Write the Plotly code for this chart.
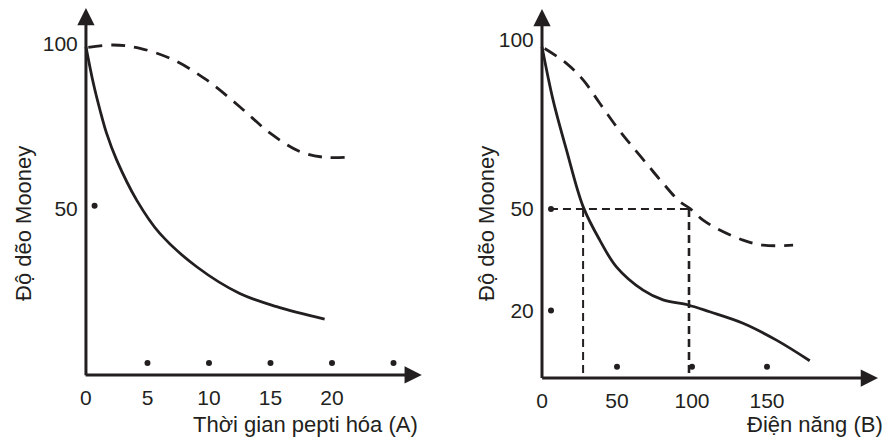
import plotly.graph_objects as go

# ---------------- data ----------------
# Panel A: Mooney plasticity vs peptization time
a_tick_vals = [0, 5, 10, 15, 20]
a_tick_text = ["0", "5", "10", "15", "20"]
a_ytick_vals = [50, 100]
a_ytick_text = ["50", "100"]
a_solid_x = [0, 0.6, 1.14, 1.68, 2.5, 4.12, 6.0, 9.0, 12.5, 15.5, 19.4]
a_solid_y = [99.2, 88.1, 80, 72.9, 64.8, 52.7, 42.6, 32.5, 24.4, 20.4, 16.6]
a_dash_x = [0.19, 2.22, 4.39, 7.1, 9.81, 12.5, 15.0, 17.4, 19.3, 21.2]
a_dash_y = [99.0, 99.7, 98.7, 95.2, 89.1, 81.0, 72.9, 67.4, 65.7, 65.7]
a_xdots = [5, 10, 15, 20, 25]
a_ydots = [51]

# Panel B: Mooney plasticity vs energy
b_tick_vals = [0, 50, 100, 150]
b_tick_text = ["0", "50", "100", "150"]
b_ytick_vals = [20, 50, 100]
b_ytick_text = ["20", "50", "100"]
b_solid_x = [0, 7.4, 16.3, 27.4, 38.5, 49.6, 67.4, 80.7, 97.4, 111.8, 134, 156.3, 178.5]
b_solid_y = [98, 82.2, 67.5, 50.7, 40.8, 32.9, 26.0, 23.1, 21.6, 19.6, 16.2, 11.2, 5.1]
b_dash_x = [1.8, 16.3, 27.4, 38.5, 49.6, 58.5, 69.6, 80.7, 91.8, 98.5, 107.4, 118.5, 134, 147.4, 167.4]
b_dash_y = [97.5, 93.1, 88.2, 81.3, 74.4, 69.4, 63.5, 57.6, 52.2, 50.2, 46.7, 43.8, 40.8, 39.3, 39.3]
b_guide_level = 50
b_guide_x1 = 27.4
b_guide_x2 = 98
b_xdots = [50, 100, 150]
b_ydots = [50, 20]

y_title = "Độ dẽo Mooney"
a_x_title = "Thời gian pepti hóa (A)"
b_x_title = "Điện năng (B)"

# ---------------- styling / layout ----------------
W, H = 886, 438
INK = "#231f20"
FONT = "Liberation Sans, Arial, sans-serif"
LW = 2.8

fig = go.Figure()

# Panel A traces
fig.add_trace(go.Scatter(x=a_solid_x, y=a_solid_y, mode="lines",
                         line=dict(color=INK, width=LW, shape="spline", smoothing=1.0),
                         xaxis="x", yaxis="y", showlegend=False, hoverinfo="skip"))
fig.add_trace(go.Scatter(x=a_dash_x, y=a_dash_y, mode="lines",
                         line=dict(color=INK, width=LW, shape="spline", smoothing=1.0, dash="14px,9px"),
                         xaxis="x", yaxis="y", showlegend=False, hoverinfo="skip"))
fig.add_trace(go.Scatter(x=a_xdots, y=[3.3] * len(a_xdots), mode="markers",
                         marker=dict(color=INK, size=6),
                         xaxis="x", yaxis="y", showlegend=False, hoverinfo="skip"))
fig.add_trace(go.Scatter(x=[0.7] * len(a_ydots), y=a_ydots, mode="markers",
                         marker=dict(color=INK, size=6),
                         xaxis="x", yaxis="y", showlegend=False, hoverinfo="skip"))

# Panel B traces
fig.add_trace(go.Scatter(x=b_solid_x, y=b_solid_y, mode="lines",
                         line=dict(color=INK, width=LW, shape="spline", smoothing=1.0),
                         xaxis="x2", yaxis="y2", showlegend=False, hoverinfo="skip"))
fig.add_trace(go.Scatter(x=b_dash_x, y=b_dash_y, mode="lines",
                         line=dict(color=INK, width=LW, shape="spline", smoothing=1.0, dash="14px,9px"),
                         xaxis="x2", yaxis="y2", showlegend=False, hoverinfo="skip"))
guide_style = dict(color=INK, width=2, dash="8px,5px")
fig.add_trace(go.Scatter(x=[5.3, b_guide_x2], y=[b_guide_level, b_guide_level], mode="lines",
                         line=guide_style, xaxis="x2", yaxis="y2", showlegend=False, hoverinfo="skip"))
fig.add_trace(go.Scatter(x=[b_guide_x1, b_guide_x1], y=[b_guide_level, 0], mode="lines",
                         line=guide_style, xaxis="x2", yaxis="y2", showlegend=False, hoverinfo="skip"))
fig.add_trace(go.Scatter(x=[b_guide_x2, b_guide_x2], y=[b_guide_level, 0], mode="lines",
                         line=dict(color=INK, width=2.6, dash="8px,5px"),
                         xaxis="x2", yaxis="y2", showlegend=False, hoverinfo="skip"))
fig.add_trace(go.Scatter(x=b_xdots, y=[3.3] * len(b_xdots), mode="markers",
                         marker=dict(color=INK, size=6),
                         xaxis="x2", yaxis="y2", showlegend=False, hoverinfo="skip"))
fig.add_trace(go.Scatter(x=[6] * len(b_ydots), y=b_ydots, mode="markers",
                         marker=dict(color=INK, size=6),
                         xaxis="x2", yaxis="y2", showlegend=False, hoverinfo="skip"))

tickfont = dict(family=FONT, size=21, color=INK)
common = dict(showgrid=False, zeroline=False, showline=False, ticks="outside",
              ticklen=4, tickcolor="rgba(0,0,0,0)", tickfont=tickfont, fixedrange=True)

fig.update_layout(
    width=W, height=H,
    margin=dict(l=0, r=0, t=0, b=0),
    paper_bgcolor="white", plot_bgcolor="white",
    xaxis=dict(domain=[58.9 / W, 425.5 / W], range=[-2.2, 27.6], anchor="free",
               position=1 - 375 / H, tickvals=a_tick_vals, ticktext=a_tick_text, **common),
    yaxis=dict(domain=[1 - 387.2 / H, 1 - 4.4 / H], range=[-4, 112], anchor="free",
               position=86 / W, tickvals=a_ytick_vals, ticktext=a_ytick_text, **common),
    xaxis2=dict(domain=[534.5 / W, 881 / W], range=[-5, 226], anchor="free",
                position=1 - 378 / H, tickvals=b_tick_vals, ticktext=b_tick_text, **common),
    yaxis2=dict(domain=[1 - 388.14 / H, 1 - 2.82 / H], range=[-3, 111], anchor="free",
                position=542 / W, tickvals=b_ytick_vals, ticktext=b_ytick_text, **common),
)

# axis arrows
arrow = dict(text="", showarrow=True, arrowhead=2, arrowsize=1.15, arrowwidth=3, arrowcolor=INK)
annotations = [
    dict(x=27.3, y=-0.3, ax=-0.15, ay=-0.3, xref="x", yref="y", axref="x", ayref="y", **arrow),
    dict(x=0, y=110.9, ax=0, ay=-0.8, xref="x", yref="y", axref="x", ayref="y", **arrow),
    dict(x=224, y=0, ax=-0.9, ay=0, xref="x2", yref="y2", axref="x2", ayref="y2", **arrow),
    dict(x=0, y=109.2, ax=0, ay=-0.45, xref="x2", yref="y2", axref="x2", ayref="y2", **arrow),
]
titlefont = dict(family=FONT, size=22, color=INK)
annotations += [
    dict(text=a_x_title, x=420 / W, y=1 - 424 / H, xref="paper", yref="paper",
         xanchor="right", yanchor="middle", showarrow=False, font=titlefont),
    dict(text=b_x_title, x=885 / W, y=1 - 424 / H, xref="paper", yref="paper",
         xanchor="right", yanchor="middle", showarrow=False, font=titlefont),
    dict(text=y_title, x=23 / W, y=1 - 224 / H, xref="paper", yref="paper", textangle=-90,
         xanchor="center", yanchor="middle", showarrow=False, font=titlefont),
    dict(text=y_title, x=486 / W, y=1 - 224 / H, xref="paper", yref="paper", textangle=-90,
         xanchor="center", yanchor="middle", showarrow=False, font=titlefont),
]
fig.update_layout(annotations=annotations)

fig.write_html("out.html", config={"displayModeBar": False},
               post_script="document.body.style.margin='0';document.body.style.padding='0';")
